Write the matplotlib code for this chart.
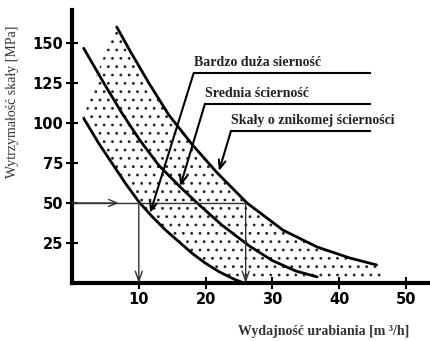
# -*- coding: utf-8 -*-

"""
Wykres: wytrzymałość skały a wydajność urabiania dla różnej ścierności.
"""

import matplotlib.pyplot as plt

plt.rc('hatch', linewidth=0.8)

dolna_x = [1.75, 4.0, 6.0, 8.0, 10.0, 12.0, 14.0, 16.0, 18.0, 20.0, 22.0, 24.0, 25.7]
dolna_y = [102.9, 87.3, 74.8, 62.3, 50.8, 41.5, 33.1, 25.8, 18.5, 12.3, 7.1, 2.9, 0.0]

srodek_x = [1.75, 4.9, 7.5, 10.2, 13.0, 16.2, 19.0, 22.5, 26.6, 30.0, 33.5, 36.7]
srodek_y = [146.7, 124, 106, 89, 73.5, 60, 49, 36, 23, 14, 7.5, 3.8]

gorna_x = [6.7, 8.7, 11.5, 14.5, 18.0, 21.7, 26.2, 31.6, 36.7, 41.6, 45.6]
gorna_y = [160, 145, 125, 105, 86.5, 69, 50, 33, 22.5, 15.6, 11.3]

# Obszar kropkowany (pasmo między krzywą dolną i górną)
pasmo_x = dolna_x + [47.0, 47.0] + gorna_x[::-1] + [5.5, 3.0]
pasmo_y = dolna_y + [0.0, 8.0] + gorna_y[::-1] + [150, 122]

# Odczyt dla wytrzymałości 50 MPa
odczyt_y = 50
odczyt_x = [10, 26]

# Opisy krzywych: tekst, wysokość podkreślenia, początek podkreślenia, grot strzałki
opisy = ['Bardzo duża sierność', 'Srednia ścierność', 'Skały o znikomej ścierności']
opis_y = [131, 112, 95]
opis_x0 = [18.2, 19.9, 23.8]
opis_x1 = 44.6
groty = [(11.7, 43.8), (16.2, 60.5), (22.0, 70.0)]

yticks = [25, 50, 75, 100, 125, 150]
xticks = [10, 20, 30, 40, 50]

fig = plt.figure(figsize=(4.31, 3.41), dpi=100)
ax = fig.add_axes([72/431, 58/341, 359/431, 273/341])

ax.fill(pasmo_x, pasmo_y, facecolor='none', edgecolor='#222222', hatch='..', linewidth=0)

for cx, cy in zip([dolna_x, srodek_x, gorna_x], [dolna_y, srodek_y, gorna_y]):
    ax.plot(cx, cy, color='k', lw=2.0, solid_capstyle='round', solid_joinstyle='round')

# Linie odczytu
ax.plot([0, odczyt_x[1]], [odczyt_y, odczyt_y], color='#333333', lw=1.0)
ax.annotate('', xy=(7, odczyt_y), xytext=(0, odczyt_y),
            arrowprops=dict(arrowstyle='->,head_length=0.6,head_width=0.25', color='#333333', lw=1.0,
                            shrinkA=0, shrinkB=0))
for x in odczyt_x:
    ax.annotate('', xy=(x, 0), xytext=(x, odczyt_y),
                arrowprops=dict(arrowstyle='->,head_length=0.7,head_width=0.25', color='#333333', lw=1.0,
                                shrinkA=0, shrinkB=0))

# Opisy z odnośnikami
for tekst, y, x0, grot in zip(opisy, opis_y, opis_x0, groty):
    ax.plot([x0, opis_x1], [y, y], color='k', lw=1.5)
    ax.annotate('', xy=grot, xytext=(x0, y),
                arrowprops=dict(arrowstyle='->,head_length=0.6,head_width=0.25', color='k', lw=1.5,
                                shrinkA=0, shrinkB=0))
    ax.text(x0, y + 2.5, tekst, family='Liberation Serif', weight='bold', fontsize=10,
            color='#222222', ha='left', va='bottom')

ax.set_xlim(0, 359/6.68)
ax.set_ylim(0, 273/1.6)
ax.spines['top'].set_visible(False)
ax.spines['right'].set_visible(False)
ax.spines['left'].set_linewidth(3)
ax.spines['bottom'].set_linewidth(3)

ax.set_xticks(xticks)
ax.set_yticks(yticks)
ax.tick_params(direction='inout', length=9, width=1.5, pad=2, labelsize=10.5)
for lab in ax.get_xticklabels() + ax.get_yticklabels():
    lab.set_fontweight('bold')

fig.text(324/431, 1 - 331/341, 'Wydajność urabiania [m ³/h]', family='Liberation Serif',
         weight='bold', fontsize=10, color='#333333', ha='center', va='center')
fig.text(13/431, 1 - 102/341, 'Wytrzymałość skały [MPa]', family='Liberation Serif',
         fontsize=10, color='#333333', ha='center', va='center', rotation=90)

plt.savefig('out.png', dpi=100)
